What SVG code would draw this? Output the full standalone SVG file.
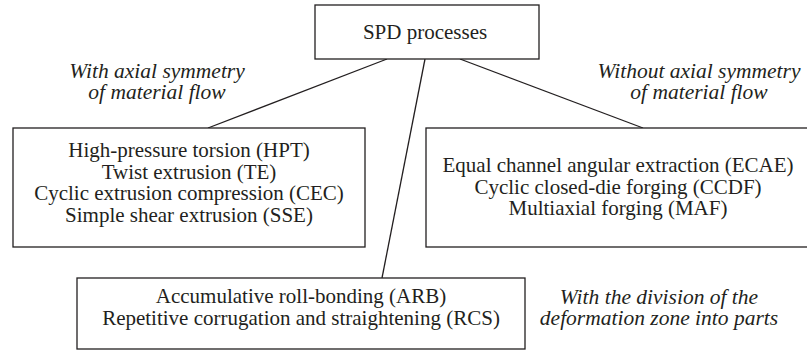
<svg xmlns="http://www.w3.org/2000/svg" width="807" height="351" viewBox="0 0 807 351">
<style>
.box{fill:#fff;stroke:#231f20;stroke-width:1.3}
.t{font-family:'Liberation Serif','DejaVu Serif',serif;font-size:21px;fill:#231f20;text-anchor:middle}
.i{font-style:italic;font-size:21.5px}
.c{stroke:#231f20;stroke-width:1.3;fill:none}
</style>
<rect width="807" height="351" fill="#fff"/>
<g id="connectors">
<line class="c" x1="387" y1="59" x2="208" y2="128"/>
<line class="c" x1="425" y1="59" x2="382" y2="278"/>
<line class="c" x1="460" y1="59" x2="643" y2="128"/>
</g>
<g id="spd">
<rect class="box" x="315" y="5" width="224" height="54"/>
<text class="t" x="425" y="39">SPD processes</text>
</g>
<g id="axial">
<rect class="box" x="13" y="128" width="352" height="119"/>
<text class="t" x="189" y="157">High-pressure torsion (HPT)</text>
<text class="t" x="189" y="179">Twist extrusion (TE)</text>
<text class="t" x="189" y="200">Cyclic extrusion compression (CEC)</text>
<text class="t" x="189" y="222">Simple shear extrusion (SSE)</text>
</g>
<g id="nonaxial">
<rect class="box" x="426" y="128" width="390" height="119"/>
<text class="t" x="618" y="172">Equal channel angular extraction (ECAE)</text>
<text class="t" x="618" y="194">Cyclic closed-die forging (CCDF)</text>
<text class="t" x="618" y="215">Multiaxial forging (MAF)</text>
</g>
<g id="division">
<rect class="box" x="77" y="278" width="448" height="71"/>
<text class="t" x="301" y="303">Accumulative roll-bonding (ARB)</text>
<text class="t" x="301" y="325">Repetitive corrugation and straightening (RCS)</text>
</g>
<g id="labels">
<text class="t i" x="157" y="78">With axial symmetry</text>
<text class="t i" x="157" y="99">of material flow</text>
<text class="t i" x="699" y="78">Without axial symmetry</text>
<text class="t i" x="699" y="99">of material flow</text>
<text class="t i" x="659" y="304">With the division of the</text>
<text class="t i" x="659" y="325">deformation zone into parts</text>
</g>
</svg>
